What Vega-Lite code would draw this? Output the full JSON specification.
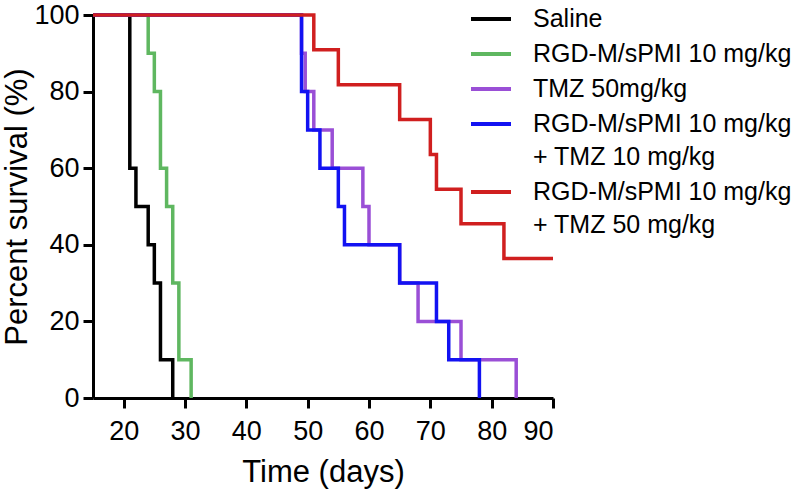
{
  "$schema": "https://vega.github.io/schema/vega-lite/v6.json",
  "width": 460,
  "height": 383,
  "autosize": {"type": "none"},
  "padding": {"left": 93, "top": 15, "right": 247, "bottom": 97},
  "background": "white",
  "config": {
    "view": {"stroke": null},
    "font": "Liberation Sans",
    "axis": {
      "domainColor": "black",
      "domainWidth": 3,
      "tickColor": "black",
      "tickWidth": 3,
      "tickSize": 10,
      "grid": false,
      "labelColor": "black",
      "labelFontSize": 27,
      "labelFont": "Liberation Sans",
      "titleColor": "black",
      "titleFontSize": 31,
      "titleFontWeight": "normal",
      "titleFont": "Liberation Sans"
    }
  },
  "data": {
    "values": [
      {"group": "Saline", "day": 15, "survival": 100},
      {"group": "Saline", "day": 21, "survival": 60},
      {"group": "Saline", "day": 22, "survival": 50},
      {"group": "Saline", "day": 24, "survival": 40},
      {"group": "Saline", "day": 25, "survival": 30},
      {"group": "Saline", "day": 26, "survival": 10},
      {"group": "Saline", "day": 28, "survival": 0},
      {"group": "RGD-M/sPMI 10 mg/kg", "day": 15, "survival": 100},
      {"group": "RGD-M/sPMI 10 mg/kg", "day": 24, "survival": 90},
      {"group": "RGD-M/sPMI 10 mg/kg", "day": 25, "survival": 80},
      {"group": "RGD-M/sPMI 10 mg/kg", "day": 26, "survival": 60},
      {"group": "RGD-M/sPMI 10 mg/kg", "day": 27, "survival": 50},
      {"group": "RGD-M/sPMI 10 mg/kg", "day": 28, "survival": 30},
      {"group": "RGD-M/sPMI 10 mg/kg", "day": 29, "survival": 10},
      {"group": "RGD-M/sPMI 10 mg/kg", "day": 31, "survival": 0},
      {"group": "TMZ 50mg/kg", "day": 15, "survival": 100},
      {"group": "TMZ 50mg/kg", "day": 49, "survival": 90},
      {"group": "TMZ 50mg/kg", "day": 49.6, "survival": 80},
      {"group": "TMZ 50mg/kg", "day": 51, "survival": 70},
      {"group": "TMZ 50mg/kg", "day": 54, "survival": 60},
      {"group": "TMZ 50mg/kg", "day": 59, "survival": 50},
      {"group": "TMZ 50mg/kg", "day": 60, "survival": 40},
      {"group": "TMZ 50mg/kg", "day": 65, "survival": 30},
      {"group": "TMZ 50mg/kg", "day": 68, "survival": 20},
      {"group": "TMZ 50mg/kg", "day": 75, "survival": 10},
      {"group": "TMZ 50mg/kg", "day": 84, "survival": 0},
      {"group": "RGD-M/sPMI 10 mg/kg + TMZ 10 mg/kg", "day": 15, "survival": 100},
      {"group": "RGD-M/sPMI 10 mg/kg + TMZ 10 mg/kg", "day": 49, "survival": 80},
      {"group": "RGD-M/sPMI 10 mg/kg + TMZ 10 mg/kg", "day": 50, "survival": 70},
      {"group": "RGD-M/sPMI 10 mg/kg + TMZ 10 mg/kg", "day": 52, "survival": 60},
      {"group": "RGD-M/sPMI 10 mg/kg + TMZ 10 mg/kg", "day": 55, "survival": 50},
      {"group": "RGD-M/sPMI 10 mg/kg + TMZ 10 mg/kg", "day": 56, "survival": 40},
      {"group": "RGD-M/sPMI 10 mg/kg + TMZ 10 mg/kg", "day": 65, "survival": 30},
      {"group": "RGD-M/sPMI 10 mg/kg + TMZ 10 mg/kg", "day": 71, "survival": 20},
      {"group": "RGD-M/sPMI 10 mg/kg + TMZ 10 mg/kg", "day": 73, "survival": 10},
      {"group": "RGD-M/sPMI 10 mg/kg + TMZ 10 mg/kg", "day": 78, "survival": 0},
      {"group": "RGD-M/sPMI 10 mg/kg + TMZ 50 mg/kg", "day": 15, "survival": 100},
      {"group": "RGD-M/sPMI 10 mg/kg + TMZ 50 mg/kg", "day": 51, "survival": 90.9},
      {"group": "RGD-M/sPMI 10 mg/kg + TMZ 50 mg/kg", "day": 55, "survival": 81.8},
      {"group": "RGD-M/sPMI 10 mg/kg + TMZ 50 mg/kg", "day": 65, "survival": 72.7},
      {"group": "RGD-M/sPMI 10 mg/kg + TMZ 50 mg/kg", "day": 70, "survival": 63.6},
      {"group": "RGD-M/sPMI 10 mg/kg + TMZ 50 mg/kg", "day": 71, "survival": 54.5},
      {"group": "RGD-M/sPMI 10 mg/kg + TMZ 50 mg/kg", "day": 75, "survival": 45.5},
      {"group": "RGD-M/sPMI 10 mg/kg + TMZ 50 mg/kg", "day": 82, "survival": 36.4},
      {"group": "RGD-M/sPMI 10 mg/kg + TMZ 50 mg/kg", "day": 90, "survival": 36.4}
    ]
  },
  "mark": {"type": "line", "interpolate": "step-after", "strokeWidth": 3.5, "clip": false},
  "encoding": {
    "x": {
      "field": "day",
      "type": "quantitative",
      "scale": {"domain": [15, 90], "nice": false, "zero": false},
      "axis": {"values": [20, 30, 40, 50, 60, 70, 80, 90], "title": "Time (days)", "labelPadding": 10, "titlePadding": 13}
    },
    "y": {
      "field": "survival",
      "type": "quantitative",
      "scale": {"domain": [0, 100], "nice": false},
      "axis": {"values": [0, 20, 40, 60, 80, 100], "title": "Percent survival (%)", "labelPadding": 4, "titlePadding": 0}
    },
    "color": {
      "field": "group",
      "type": "nominal",
      "sort": null,
      "scale": {
        "domain": ["Saline", "RGD-M/sPMI 10 mg/kg", "TMZ 50mg/kg", "RGD-M/sPMI 10 mg/kg + TMZ 10 mg/kg", "RGD-M/sPMI 10 mg/kg + TMZ 50 mg/kg"],
        "range": ["#000000", "#5fb760", "#9a4fd6", "#1212f2", "#d01f1f"]
      },
      "legend": {
        "orient": "none",
        "legendX": 376,
        "legendY": -18,
        "title": null,
        "symbolType": "stroke",
        "symbolSize": 1600,
        "symbolStrokeWidth": 4,
        "labelFontSize": 25,
        "labelFont": "Liberation Sans",
        "labelColor": "black",
        "labelOffset": 20,
        "labelLimit": 0,
        "rowPadding": 0,
        "labelExpr": "indexof(datum.label, ' + ') > 0 ? [substring(datum.label, 0, indexof(datum.label, ' + ')), substring(datum.label, indexof(datum.label, ' + ') + 1)] : datum.label",
        "encode": {
          "labels": {
            "update": {
              "lineHeight": {"value": 33}
            }
          }
        }
      }
    }
  }
}
